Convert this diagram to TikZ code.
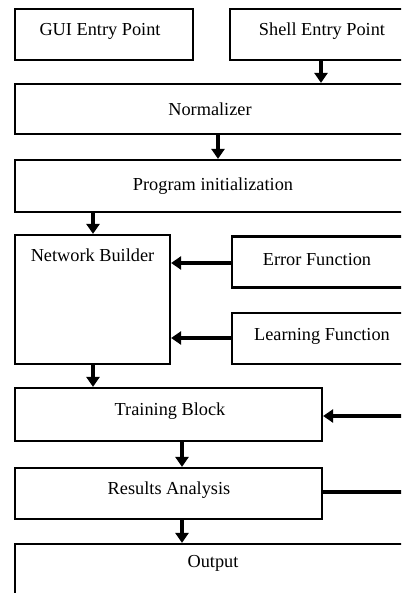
\documentclass[tikz,border=0pt]{standalone}
\usepackage{fontspec}
\setmainfont{Liberation Serif}
\usetikzlibrary{arrows.meta}
\tikzset{
  box/.style={draw=black, line width=2.2pt, rectangle, inner sep=0pt},
  flow/.style={line width=3.2pt, -{Triangle[width=13pt,length=10pt]}},
  plain/.style={line width=3.2pt},
  lbl/.style={inner sep=0pt, font=\fontsize{18.3}{21}\selectfont}
}
\begin{document}
\begin{tikzpicture}[x=1pt,y=-1pt]
\useasboundingbox (0,0) rectangle (401,593);
\fill[white] (0,0) rectangle (401,593);
\clip (0,0) rectangle (401,593);
\node[box, minimum width=178pt, minimum height=51pt,
      label={[lbl, yshift=3pt, xshift=-4pt]center:GUI Entry Point}] (gui) at (104,34.5) {};
\node[box, minimum width=200pt, minimum height=51pt,
      label={[lbl, yshift=3pt, xshift=-8pt]center:Shell Entry Point}] (shell) at (330,34.5) {};
\node[box, minimum width=420pt, minimum height=50pt,
      label={[lbl, xshift=-15pt]center:Normalizer}] (norm) at (225,109) {};
\node[box, minimum width=420pt, minimum height=52pt,
      label={[lbl, xshift=-12pt]center:Program initialization}] (init) at (225,186) {};
\node[box, minimum width=155pt, minimum height=129pt,
      label={[lbl, anchor=north, yshift=-15pt]north:Network Builder}] (nb) at (92.5,299.5) {};
\node[box, minimum width=200pt, minimum height=51pt,
      label={[lbl, yshift=2pt, xshift=-15pt]center:Error Function}] (err) at (332,262) {};
\node[box, minimum width=200pt, minimum height=51pt,
      label={[lbl, yshift=2pt, xshift=-10pt]center:Learning Function}] (learn) at (332,338.5) {};
\node[box, minimum width=307pt, minimum height=53pt,
      label={[lbl, yshift=3pt, xshift=1.5pt]center:Training Block}] (train) at (168.5,414.5) {};
\node[box, minimum width=307pt, minimum height=51pt,
      label={[lbl, yshift=3pt, xshift=0.5pt]center:Results Analysis}] (res) at (168.5,493.5) {};
\node[box, minimum width=420pt, minimum height=80pt,
      label={[lbl, anchor=north, yshift=-12pt, xshift=-12pt]north:Output}] (out) at (225,584) {};
% free ends at the right edge
\coordinate (trainin) at (410,416);
\coordinate (resout) at (410,492);
% connectors
\draw[flow] (shell.south -| 321,0) -- (norm.north -| 321,0);
\draw[flow] (norm.south -| 218,0) -- (init.north -| 218,0);
\draw[flow] (init.south -| 93,0) -- (nb.north -| 93,0);
\draw[flow] (err.west |- 0,263) -- (nb.east |- 0,263);
\draw[flow] (learn.west |- 0,338) -- (nb.east |- 0,338);
\draw[flow] (nb.south -| 93,0) -- (train.north -| 93,0);
\draw[flow] (trainin) -- (train.east |- trainin);
\draw[flow] (train.south -| 182,0) -- (res.north -| 182,0);
\draw[plain] (res.east |- resout) -- (resout);
\draw[flow] (res.south -| 182,0) -- (out.north -| 182,0);
\end{tikzpicture}
\end{document}
